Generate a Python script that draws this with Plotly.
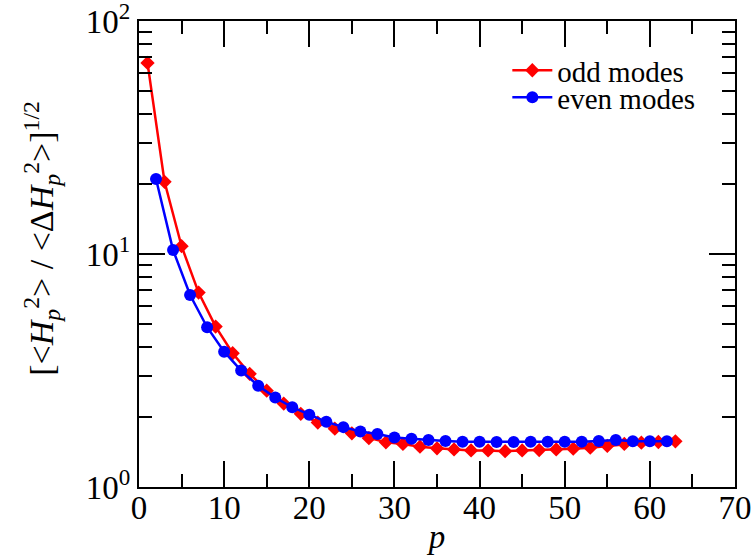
import plotly.graph_objects as go

# odd modes (red diamonds)
p_odd = [1, 3, 5, 7, 9, 11, 13, 15, 17, 19, 21, 23, 25, 27, 29, 31,
         33, 35, 37, 39, 41, 43, 45, 47, 49, 51, 53, 55, 57, 59, 61, 63]
v_odd = [66.1, 20.4, 10.8, 6.83, 4.88, 3.75, 3.06, 2.59, 2.28, 2.06, 1.89, 1.78,
         1.70, 1.62, 1.555, 1.53, 1.49, 1.465, 1.45, 1.435, 1.435, 1.425, 1.435,
         1.44, 1.45, 1.46, 1.475, 1.50, 1.53, 1.55, 1.56, 1.57]

# even modes (blue circles)
p_even = [2, 4, 6, 8, 10, 12, 14, 16, 18, 20, 22, 24, 26, 28, 30, 32,
          34, 36, 38, 40, 42, 44, 46, 48, 50, 52, 54, 56, 58, 60, 62]
v_even = [20.97, 10.4, 6.67, 4.85, 3.81, 3.16, 2.72, 2.42, 2.20, 2.04, 1.905, 1.807,
          1.731, 1.687, 1.632, 1.61, 1.59, 1.575, 1.565, 1.565, 1.56, 1.56, 1.565,
          1.565, 1.565, 1.565, 1.575, 1.59, 1.57, 1.57, 1.57]

x_ticks = [0, 10, 20, 30, 40, 50, 60, 70]
y_tickvals = [1, 10, 100]
y_ticktext = ["10<sup>0</sup>", "10<sup>1</sup>", "10<sup>2</sup>"]

y_title = ("[&lt;<i>H</i><sub><i>p</i></sub><sup>2</sup>&gt; / "
           "&lt;Δ<i>H</i><sub><i>p</i></sub><sup>2</sup>&gt;]<sup>1/2</sup>")

FONT = "Liberation Serif"

fig = go.Figure()
fig.add_trace(go.Scatter(
    x=p_odd, y=v_odd, mode="lines+markers", name="odd modes", legend="legend",
    line=dict(color="#ff0000", width=2.5),
    marker=dict(symbol="diamond", size=11, color="#ff0000"),
))
fig.add_trace(go.Scatter(
    x=p_even, y=v_even, mode="lines+markers", name="even modes", legend="legend2",
    line=dict(color="#0000ff", width=2.5),
    marker=dict(symbol="circle", size=12, color="#0000ff"),
))

leg_common = dict(
    xanchor="left", yanchor="middle", bgcolor="rgba(0,0,0,0)",
    font=dict(family=FONT, size=29, color="black"), itemwidth=40,
)

fig.update_layout(
    width=756, height=558,
    margin=dict(l=139, r=21, t=21, b=71),
    paper_bgcolor="white", plot_bgcolor="white",
    font=dict(family=FONT, size=33, color="black"),
    showlegend=True,
    legend=dict(x=0.618, y=0.894, **leg_common),
    legend2=dict(x=0.618, y=0.836, **leg_common),
    annotations=[dict(
        text=y_title, xref="paper", yref="paper", x=-0.165, y=0.534,
        xanchor="center", yanchor="middle", textangle=-90, showarrow=False,
        font=dict(family=FONT, size=34, color="black"),
    )],
)

fig.update_xaxes(
    range=[0, 70], tickvals=x_ticks, automargin=False,
    ticks="inside", ticklen=26, tickwidth=1.5, tickcolor="black",
    showline=True, linewidth=2, linecolor="black", mirror="allticks",
    showgrid=False, zeroline=False, ticklabeloverflow="allow",
    ticklabelstandoff=-10,
    minor=dict(dtick=5, ticks="inside", ticklen=13, tickwidth=1.5, tickcolor="black", showgrid=False),
    tickfont=dict(family=FONT, size=33),
    title=dict(text="<i>p</i>", font=dict(family=FONT, size=33), standoff=0),
)

fig.update_yaxes(
    type="log", range=[0, 2], automargin=False,
    tickvals=y_tickvals, ticktext=y_ticktext,
    ticks="inside", ticklen=26, tickwidth=1.5, tickcolor="black",
    showline=True, linewidth=2, linecolor="black", mirror="allticks",
    showgrid=False, zeroline=False, ticklabeloverflow="allow",
    minor=dict(dtick="D1", ticks="inside", ticklen=13, tickwidth=1.5, tickcolor="black", showgrid=False),
    tickfont=dict(family=FONT, size=33),
)

fig.write_html("out.html", config={"displayModeBar": False},
               post_script="document.body.style.margin='0';")
